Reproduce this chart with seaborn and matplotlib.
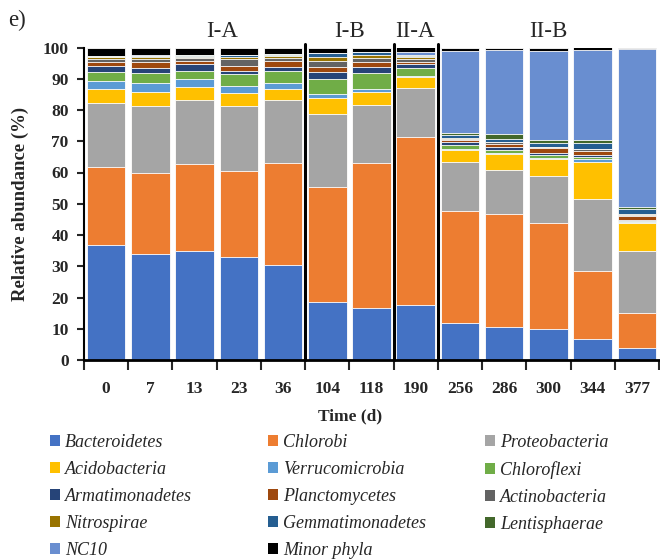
import numpy as np
import pandas as pd
import matplotlib
matplotlib.use("Agg")
import matplotlib.pyplot as plt
from matplotlib.patches import Patch
import seaborn as sns

# ---------------- data ----------------
times = ["0", "7", "13", "23", "36", "104", "118", "190", "256", "286", "300", "344", "377"]

bacteroidetes    = [36.7, 34.0, 34.8, 32.9, 30.5, 18.6, 16.7, 17.6, 11.9, 10.5, 9.9, 6.7, 3.8]
chlorobi         = [25.2, 26.0, 27.8, 27.7, 32.4, 36.9, 46.2, 53.8, 35.9, 36.1, 33.9, 21.8, 11.3]
proteobacteria   = [20.5, 21.4, 20.7, 20.8, 20.3, 23.2, 18.7, 15.7, 15.5, 14.2, 15.1, 22.9, 19.9]
acidobacteria    = [4.4, 4.3, 4.0, 4.1, 3.5, 5.3, 4.3, 3.4, 3.9, 5.0, 5.3, 12.1, 8.9]
verrucomicrobia  = [2.5, 2.8, 2.7, 2.3, 1.8, 1.2, 0.8, 0.4, 0.2, 0.3, 0.5, 0.7, 0.3]
chloroflexi      = [2.7, 3.2, 2.6, 3.6, 3.9, 4.8, 5.3, 2.4, 1.4, 1.1, 0.9, 0.9, 0.3]
armatimonadetes  = [2.1, 1.8, 2.0, 1.2, 1.5, 2.2, 1.8, 1.3, 1.0, 1.0, 0.5, 0.5, 0.4]
planctomycetes   = [1.4, 1.8, 1.1, 1.6, 1.8, 1.7, 1.5, 0.9, 0.6, 1.0, 1.6, 1.4, 1.1]
actinobacteria   = [0.8, 1.0, 0.8, 2.2, 1.0, 1.7, 1.3, 0.8, 0.3, 0.6, 0.4, 0.4, 0.5]
nitrospirae      = [0.5, 0.6, 0.6, 0.6, 0.7, 1.3, 0.9, 0.5, 0.2, 0.1, 0.2, 0.1, 0.2]
gemmatimonadetes = [0.3, 0.4, 0.3, 0.5, 0.3, 1.3, 1.0, 0.4, 1.0, 0.7, 1.0, 2.0, 1.5]
lentisphaerae    = [0.1, 0.1, 0.2, 0.1, 0.2, 0.1, 0.1, 0.3, 0.8, 1.7, 1.1, 0.9, 0.9]
nc10             = [0.1, 0.1, 0.1, 0.1, 0.1, 0.1, 0.1, 1.0, 26.3, 27.0, 28.6, 28.9, 50.4]
minor_phyla      = [2.7, 2.5, 2.3, 2.3, 2.0, 1.6, 1.3, 1.5, 1.0, 0.7, 1.0, 0.7, 0.5]

phyla = ["Bacteroidetes", "Chlorobi", "Proteobacteria", "Acidobacteria",
         "Verrucomicrobia", "Chloroflexi", "Armatimonadetes", "Planctomycetes",
         "Actinobacteria", "Nitrospirae", "Gemmatimonadetes", "Lentisphaerae",
         "NC10", "Minor phyla"]
series = [bacteroidetes, chlorobi, proteobacteria, acidobacteria, verrucomicrobia,
          chloroflexi, armatimonadetes, planctomycetes, actinobacteria, nitrospirae,
          gemmatimonadetes, lentisphaerae, nc10, minor_phyla]
colors = ["#4472C4", "#ED7D31", "#A5A5A5", "#FFC000", "#5B9BD5", "#70AD47",
          "#264478", "#9E480E", "#636363", "#997300", "#255E91", "#43682B",
          "#698ED0", "#000000"]

groups = ["I-A", "I-B", "II-A", "II-B"]
group_label_x = [2.62, 5.51, 6.98, 9.99]
separators = [4.5, 6.5, 7.5]

# ---------------- style ----------------
sns.set_style("ticks")
plt.rcParams["font.family"] = ["Liberation Serif", "DejaVu Serif"]

fig = plt.figure(figsize=(6.6, 5.6), dpi=100)
ax = fig.add_axes([84 / 660, 1 - 360 / 560, 575 / 660, 312.5 / 560])

vals = np.array(series)
cum = np.cumsum(vals, axis=0)
rows = []
for i, p in enumerate(phyla):
    for j, t in enumerate(times):
        rows.append({"time": t, "phylum": p, "top": cum[i, j]})
df = pd.DataFrame(rows)

# draw from top layer down so lower layers overlay
for i in range(len(phyla) - 1, -1, -1):
    sub = df[df["phylum"] == phyla[i]]
    sns.barplot(data=sub, x="time", y="top", order=times, color=colors[i],
                saturation=1, width=0.87, errorbar=None, edgecolor="white",
                linewidth=0.6, ax=ax)

ax.set_xlim(-0.5, len(times) - 0.5)
ax.set_ylim(0, 100)
ax.set_yticks(np.arange(0, 101, 10))
ax.tick_params(axis="y", length=5, width=1.5, direction="out", labelsize=12.5, pad=6)
ax.tick_params(axis="x", which="major", length=0, labelsize=12.5, pad=15)
ax.set_xticks(np.arange(-0.5, len(times), 1), minor=True)
ax.tick_params(axis="x", which="minor", length=7, width=1.5, direction="out")
for lab in ax.get_xticklabels() + ax.get_yticklabels():
    lab.set_fontweight("bold")

for s in ["top", "right"]:
    ax.spines[s].set_visible(False)
ax.spines["left"].set_linewidth(1.5)
ax.spines["bottom"].set_linewidth(2)
ax.spines["left"].set_color("black")
ax.spines["bottom"].set_color("black")

ax.set_xlabel("Time (d)", fontsize=12.5, fontweight="bold")
ax.xaxis.set_label_coords((350 - 84) / 575, -0.155)
ax.set_ylabel("Relative abundance (%)", fontsize=13.5, fontweight="bold")
ax.yaxis.set_label_coords(-0.095, 0.5)

for x in separators:
    ax.axvline(x, ymin=0, ymax=1.01, color="black", lw=2.2, clip_on=False)

for g, gx in zip(groups, group_label_x):
    ax.text(gx, 1.05, g, transform=ax.get_xaxis_transform(), ha="center",
            va="center", fontsize=16.5)

fig.text(8 / 660, 1 - 20 / 560, "e)", fontsize=16.5, va="center", ha="left")

# legend: three columns, row-major order
handles = [Patch(facecolor=c, edgecolor="none") for c in colors]
col_x = [50 / 660, 268 / 660, 485 / 660]
for c in range(3):
    idx = list(range(c, len(phyla), 3))
    leg = fig.legend([handles[k] for k in idx], [phyla[k] for k in idx],
                     loc="upper left", bbox_to_anchor=(col_x[c], 1 - 434 / 560),
                     frameon=False, borderpad=0, borderaxespad=0,
                     handlelength=0.57, handleheight=0.57, handletextpad=0.25,
                     labelspacing=0.55,
                     prop={"family": ["Liberation Serif"], "style": "italic", "size": 13})

fig.savefig("out.png", dpi=100)
